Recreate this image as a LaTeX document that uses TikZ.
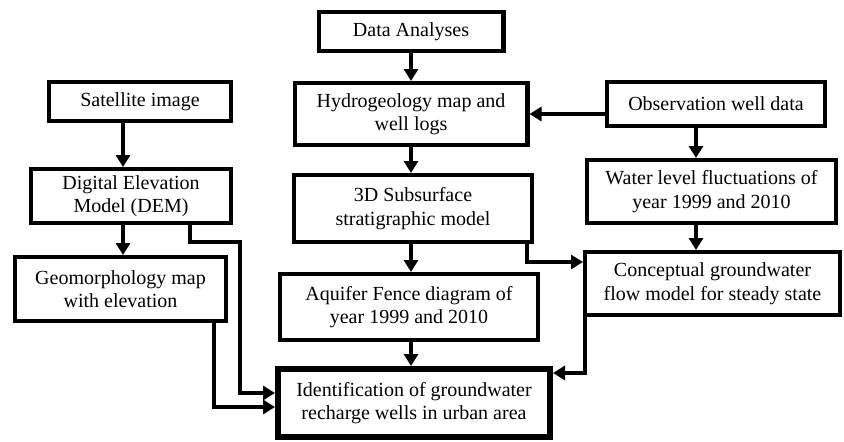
\documentclass[tikz,border=0pt]{standalone}
\usepackage{fontspec}
\setmainfont{Liberation Serif}
\usetikzlibrary{arrows.meta,calc}
\begin{document}
\begin{tikzpicture}[x=1pt,y=-1pt,
  box/.style={draw, line width=4.2pt, inner sep=0pt, align=center, font=\fontsize{20}{23.5}\selectfont},
  arr/.style={line width=4.2pt, -{Triangle[length=12pt,width=14pt]}},
]
\useasboundingbox (0,0) rectangle (844,442);
% nodes
\node[box, minimum width=184.8pt, minimum height=38.8pt] (da) at (411,31.5) {Data Analyses};
\node[box, minimum width=181.8pt, minimum height=38.8pt] (sat) at (140,101.5) {Satellite image};
\node[box, minimum width=199.8pt, minimum height=53.8pt] (dem) at (131,196) {Digital Elevation\\Model (DEM)};
\node[box, minimum width=232.8pt, minimum height=61.8pt] (hyd) at (411,114) {Hydrogeology map and\\well logs};
\node[box, minimum width=237.8pt, minimum height=66.8pt] (sub) at (413,208.5) {3D Subsurface\\stratigraphic model};
\node[box, minimum width=217.8pt, minimum height=43.8pt] (obs) at (716,104) {Observation well data};
\node[box, minimum width=248.8pt, minimum height=62.8pt] (wl) at (711.5,191.5) {Water level fluctuations of\\year 1999 and 2010};
\node[box, minimum width=210.8pt, minimum height=63.8pt] (geo) at (120.5,289) {Geomorphology map\\with elevation};
\node[box, minimum width=257.8pt, minimum height=65.8pt] (aq) at (409,307) {Aquifer Fence diagram of\\year 1999 and 2010};
\node[box, minimum width=254.8pt, minimum height=62.8pt] (con) at (712.5,283.5) {Conceptual groundwater\\flow model for steady state};
\node[box, line width=5.8pt, minimum width=272.2pt, minimum height=68.2pt] (id) at (414,403) {Identification of groundwater\\recharge wells in urban area};
% helper coordinates
\coordinate (c1) at (123,0);
\coordinate (c2) at (696,0);
\coordinate (c3) at (411,0);
\coordinate (d1) at (190,242);
\coordinate (d2) at (240,393);
\coordinate (g1) at (214,407);
\coordinate (s1) at (527,262);
\coordinate (k1) at (585,373);
% connectors
\draw[arr] (da.south -| c3) -- (hyd.north -| c3);
\draw[arr] (hyd.south -| c3) -- (sub.north -| c3);
\draw[arr] (sub.south -| c3) -- (aq.north -| c3);
\draw[arr] (aq.south -| c3) -- (id.north -| c3);
\draw[arr] (sat.south -| c1) -- (dem.north -| c1);
\draw[arr] (dem.south -| c1) -- (geo.north -| c1);
\draw[arr] (obs.west |- hyd.east) -- (hyd.east);
\draw[arr] (obs.south -| c2) -- (wl.north -| c2);
\draw[arr] (wl.south -| c2) -- (con.north -| c2);
\draw[arr] (dem.south -| d1) -- (d1) -- (d1 -| d2) -- (d2) -- (id.west |- d2);
\draw[arr] (geo.south -| g1) -- (g1) -- (id.west |- g1);
\draw[arr] (sub.south -| s1) -- (s1) -- (con.west |- s1);
\draw[arr] (con.south -| k1) -- (k1) -- (id.east |- k1);
\end{tikzpicture}
\end{document}
